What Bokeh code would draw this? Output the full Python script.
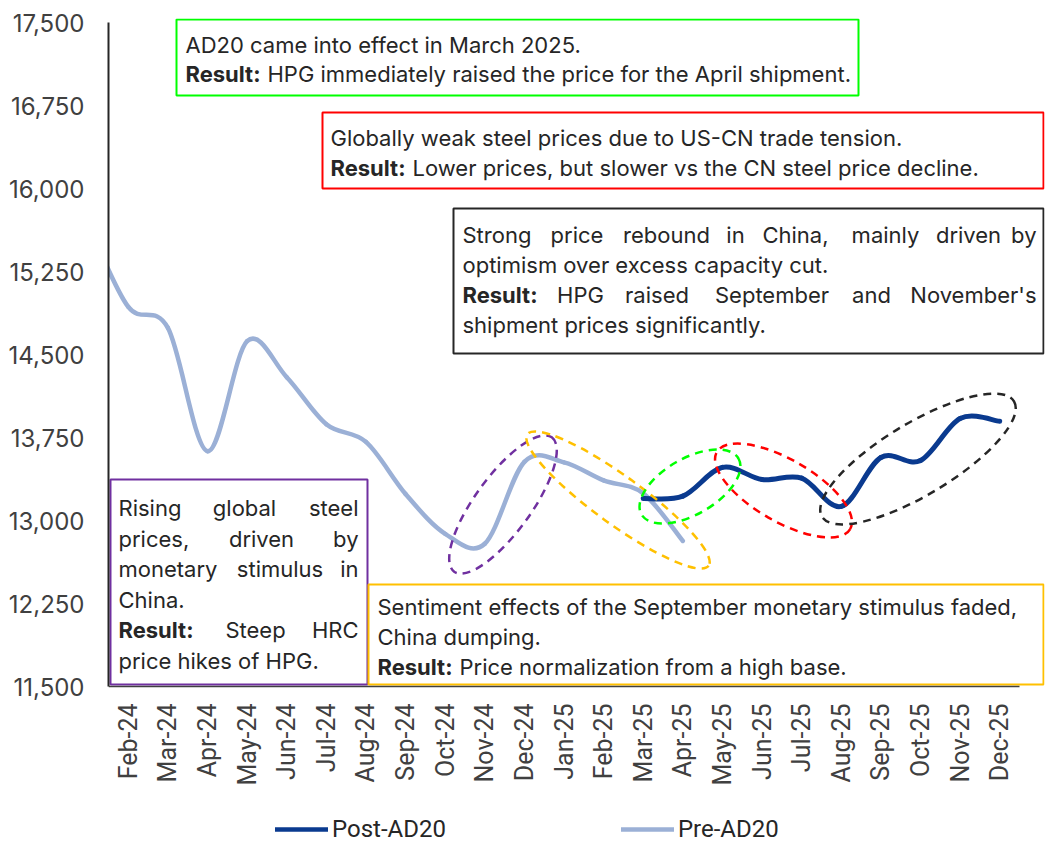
import math

from bokeh.core.properties import value
from bokeh.embed import file_html
from bokeh.models import (BoxAnnotation, ColumnDataSource, FixedTicker, Legend,
                          LegendItem, NumeralTickFormatter, Range1d)
from bokeh.plotting import figure
from bokeh.resources import INLINE

# ---------------------------------------------------------------- data
months = ["Feb-24", "Mar-24", "Apr-24", "May-24", "Jun-24", "Jul-24", "Aug-24",
          "Sep-24", "Oct-24", "Nov-24", "Dec-24", "Jan-25", "Feb-25", "Mar-25",
          "Apr-25", "May-25", "Jun-25", "Jul-25", "Aug-25", "Sep-25", "Oct-25",
          "Nov-25", "Dec-25"]

# month index: Feb-24 = 0 ... Dec-25 = 22 (Jan-24 = -1 sits left of the axis)
pre_x = [-1, 0, 1, 2, 3, 4, 5, 6, 7, 8, 9, 10, 11, 12, 13, 14]
pre_ad20 = [15670, 14930, 14740, 13626, 14620, 14295, 13870, 13710, 13240,
            12880, 12790, 13530, 13525, 13362, 13245, 12815]

post_x = [13, 14, 15, 16, 17, 18, 19, 20, 21, 22]
post_ad20 = [13199, 13220, 13480, 13370, 13383, 13127, 13569, 13542, 13922, 13897]

y_ticks = [11500, 12250, 13000, 13750, 14500, 15250, 16000, 16750, 17500]

# ---------------------------------------------------------------- frame geometry
# the frame runs to the foot of the canvas; the month axis sits at y = 11,500
LEFT, TOP, FRAME_W, FRAME_H = 108, 18, 936, 825
PX_PER_MONTH = 39.6087
UNITS_PER_PX = 9.0361
X_START, X_END = -0.5, 22.5 + 25 / PX_PER_MONTH
Y_END = 17500 + 4 * UNITS_PER_PX
Y_START = Y_END - FRAME_H * UNITS_PER_PX


def xd(px):
    """canvas pixel column -> month index"""
    return X_START + (px - LEFT) / PX_PER_MONTH


def yd(py):
    """canvas pixel row -> price"""
    return Y_END - (py - TOP) * UNITS_PER_PX


p = figure(frame_width=FRAME_W, frame_height=FRAME_H,
           min_border_left=LEFT, min_border_right=1054 - LEFT - FRAME_W,
           min_border_top=TOP, min_border_bottom=0,
           x_range=Range1d(X_START, X_END), y_range=Range1d(Y_START, Y_END),
           x_axis_location=None,
           output_backend="svg", toolbar_location=None,
           background_fill_color="white", border_fill_color="white")
p.outline_line_color = None
p.xgrid.visible = False
p.ygrid.visible = False

# ---------------------------------------------------------------- value axis
ya = p.yaxis[0]
ya.ticker = FixedTicker(ticks=y_ticks)
ya.formatter = NumeralTickFormatter(format="0,0")
ya.bounds = (y_ticks[0], y_ticks[-1])
ya.major_tick_out = 0
ya.major_tick_in = 0
ya.minor_tick_out = 0
ya.minor_tick_in = 0
ya.major_label_standoff = 24
ya.major_label_text_font = "Inter"
ya.major_label_text_font_size = "24px"
ya.major_label_text_color = "#404040"
ya.axis_line_color = "#262626"
ya.axis_line_width = 2

# ---------------------------------------------------------------- month axis
month_idx = list(range(len(months)))
p.segment(x0=[-0.5], y0=[y_ticks[0]], x1=[len(months) - 0.5], y1=[y_ticks[0]],
          line_color="#404040", line_width=1.5)
p.text(x=month_idx, y=[yd(703)] * len(months), text=months, angle=math.pi / 2,
       text_font=value("Roboto"), text_font_size="25px", text_color="#404040",
       text_align="right", text_baseline="middle")


# ---------------------------------------------------------------- smoothed lines
def smooth_segments(xs, ys):
    """Catmull-Rom control points for a smoothed line through the points."""
    n = len(xs)
    seg = {k: [] for k in ("x0", "y0", "x1", "y1", "cx0", "cy0", "cx1", "cy1")}
    for i in range(n - 1):
        xp, yp = (xs[i - 1], ys[i - 1]) if i > 0 else (xs[i], ys[i])
        xn, yn = (xs[i + 2], ys[i + 2]) if i + 2 < n else (xs[i + 1], ys[i + 1])
        seg["x0"].append(xs[i])
        seg["y0"].append(ys[i])
        seg["x1"].append(xs[i + 1])
        seg["y1"].append(ys[i + 1])
        seg["cx0"].append(xs[i] + (xs[i + 1] - xp) / 6)
        seg["cy0"].append(ys[i] + (ys[i + 1] - yp) / 6)
        seg["cx1"].append(xs[i + 1] - (xn - xs[i]) / 6)
        seg["cy1"].append(ys[i + 1] - (yn - ys[i]) / 6)
    return ColumnDataSource(seg)


PRE_COLOR = "#9BB0D6"
POST_COLOR = "#0A3A8F"

# the month before Feb-24 lies left of the frame; the frame trims it
p.bezier(x0="x0", y0="y0", x1="x1", y1="y1", cx0="cx0", cy0="cy0", cx1="cx1",
         cy1="cy1", source=smooth_segments(pre_x, pre_ad20),
         line_color=PRE_COLOR, line_width=4.5, line_cap="round")
p.bezier(x0="x0", y0="y0", x1="x1", y1="y1", cx0="cx0", cy0="cy0", cx1="cx1",
         cy1="cy1", source=smooth_segments(post_x, post_ad20),
         line_color=POST_COLOR, line_width=5, line_cap="round")

# legend swatches: one-point lines draw nothing on the chart itself
leg_post = p.line(x=post_x[:1], y=post_ad20[:1], line_color=POST_COLOR,
                  line_width=4.5, line_cap="round")
leg_pre = p.line(x=pre_x[1:2], y=pre_ad20[1:2], line_color=PRE_COLOR,
                 line_width=4.5, line_cap="round")

legend = Legend(items=[LegendItem(label="Post-AD20", renderers=[leg_post]),
                       LegendItem(label="Pre-AD20", renderers=[leg_pre])],
                location=(275 - LEFT, 0), orientation="horizontal",
                padding=0, margin=0, spacing=175,
                glyph_width=53, glyph_height=24, label_height=24,
                label_standoff=4, label_text_font="Roboto",
                label_text_font_size="24px", label_text_color="#262626",
                border_line_alpha=0, background_fill_alpha=0)
p.add_layout(legend)

# ---------------------------------------------------------------- dashed ellipses
ellipses = [
    # (centre px, centre py, width px, height px, angle deg, colour)
    (502.5, 504, 166, 56, 54, "#7030A0"),
    (617.5, 499.5, 224, 48, -36, "#FFC000"),
    (689.5, 486, 112, 56, 30, "#00FF00"),
    (783, 490, 154, 62, -30, "#FF0000"),
    (917.5, 458.5, 224, 72, 31, "#262626"),
]
for cx, cy, w, h, ang, col in ellipses:
    p.ellipse(x=xd(cx), y=yd(cy), width=w, height=h, width_units="screen",
              height_units="screen", angle=math.radians(ang),
              fill_alpha=0, line_color=col, line_width=2.5, line_dash="8 6")

# ---------------------------------------------------------------- text boxes
boxes = [
    # (left, top, right, bottom) in canvas px, border colour
    ((176, 19, 858, 95), "#00FF00"),
    ((322, 112, 1043, 188), "#FF0000"),
    ((453, 208, 1043, 353), "#262626"),
    ((110, 479, 367, 684), "#7030A0"),
    ((368, 584, 1043, 684), "#FFC000"),
]
for (l, t, r, b), col in boxes:
    p.add_layout(BoxAnnotation(left=xd(l), right=xd(r), top=yd(t), bottom=yd(b),
                               fill_color="white", fill_alpha=1,
                               line_color=col, line_width=2, line_alpha=1,
                               level="underlay"))

# words: (text, x px, baseline px, align, bold)
words = [
    ("AD20 came into effect in March 2025.", 185, 51, "left", False),
    ("Result:", 185, 80, "left", True),
    ("HPG immediately raised the price for the April shipment.", 267, 80, "left", False),

    ("Globally weak steel prices due to US-CN trade tension.", 330, 144, "left", False),
    ("Result:", 330, 174, "left", True),
    ("Lower prices, but slower vs the CN steel price decline.", 412, 174, "left", False),

    ("Strong", 462, 241.5, "left", False),
    ("price", 576.5, 241.5, "center", False),
    ("rebound", 666, 241.5, "center", False),
    ("in", 735, 241.5, "center", False),
    ("China,", 795, 241.5, "center", False),
    ("mainly", 885, 241.5, "center", False),
    ("driven", 968, 241.5, "center", False),
    ("by", 1036, 241.5, "right", False),
    ("optimism over excess capacity cut.", 462, 271.5, "left", False),
    ("Result:", 462, 301.5, "left", True),
    ("HPG", 580, 301.5, "center", False),
    ("raised", 656.5, 301.5, "center", False),
    ("September", 771.5, 301.5, "center", False),
    ("and", 871, 301.5, "center", False),
    ("November's", 1036, 301.5, "right", False),
    ("shipment prices significantly.", 462, 331.5, "left", False),

    ("Rising", 118, 514.5, "left", False),
    ("global", 244, 514.5, "center", False),
    ("steel", 358, 514.5, "right", False),
    ("prices,", 118, 545, "left", False),
    ("driven", 261, 545, "center", False),
    ("by", 358, 545, "right", False),
    ("monetary", 118, 575.5, "left", False),
    ("stimulus", 279.5, 575.5, "center", False),
    ("in", 358, 575.5, "right", False),
    ("China.", 118, 606, "left", False),
    ("Result:", 118, 636.5, "left", True),
    ("Steep", 255, 636.5, "center", False),
    ("HRC", 358, 636.5, "right", False),
    ("price hikes of HPG.", 118, 667, "left", False),

    ("Sentiment effects of the September monetary stimulus faded,", 377, 613, "left", False),
    ("China dumping.", 377, 643, "left", False),
    ("Result:", 377, 673, "left", True),
    ("Price normalization from a high base.", 459, 673, "left", False),
]

BASELINE_SHIFT = -7  # glyph baseline sits a little low in the SVG output

for align in ("left", "center", "right"):
    for bold in (False, True):
        sel = [w for w in words if w[3] == align and w[4] == bold]
        if not sel:
            continue
        src = ColumnDataSource(dict(x=[xd(w[1]) for w in sel],
                                    y=[yd(w[2] + BASELINE_SHIFT) for w in sel],
                                    text=[w[0] for w in sel]))
        p.text(x="x", y="y", text="text", source=src,
               text_font=value("Inter"), text_font_size="22px",
               text_font_style="bold" if bold else "normal",
               text_color="#262626", text_align=align,
               text_baseline="alphabetic")

open("out.html", "w").write(file_html(p, INLINE))
